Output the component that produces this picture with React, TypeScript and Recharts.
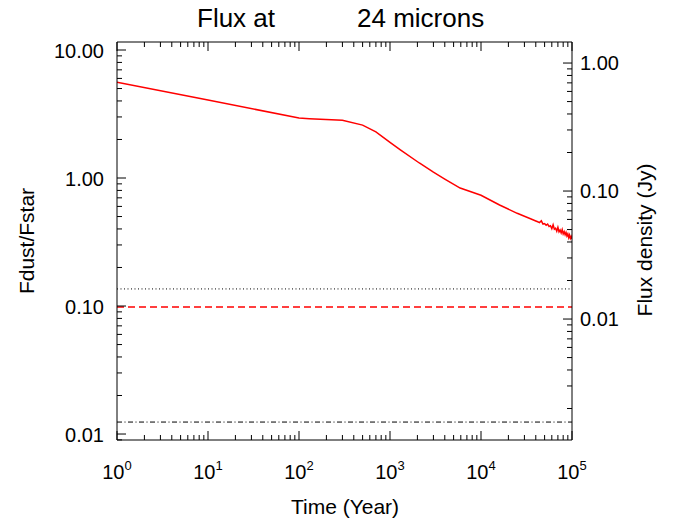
import { LineChart, Line, XAxis, YAxis, ReferenceLine } from "recharts";

// time in years, Fdust/Fstar
const times = [
  1, 10, 100, 130, 300, 500, 700, 1000, 1300, 2100, 3000, 4000, 5900, 10000,
  16000, 25000, 30000, 35000, 40000, 42000, 44000, 46000, 48000, 50000, 52000,
  54000, 56000, 58000, 60000, 62000, 64000, 66000, 68000, 70000, 72000, 74000,
  76000, 78000, 80000, 82000, 84000, 86000, 88000, 90000, 92000, 94000, 96000,
  98000, 100000,
];
const fluxRatio = [
  5.6, 4.07, 2.94, 2.91, 2.83, 2.59, 2.29, 1.9, 1.66, 1.31, 1.11, 0.98, 0.835,
  0.733, 0.615, 0.53, 0.503, 0.481, 0.462, 0.455, 0.449, 0.463, 0.436, 0.44,
  0.427, 0.437, 0.418, 0.424, 0.402, 0.431, 0.398, 0.405, 0.384, 0.412, 0.38,
  0.392, 0.372, 0.395, 0.366, 0.381, 0.36, 0.376, 0.353, 0.366, 0.342, 0.359,
  0.338, 0.35, 0.334,
];

const dottedLevel = 0.136;
const dashedLevel = 0.0982;
const dashDotLevel = 0.0124;

const xDomain = [1, 100000];
const leftDomain = [0.00898, 11.55];
const rightDomain = [0.001135, 1.46];

const data = times.map((t, i) => ({ t, r: fluxRatio[i] }));

function decadeTicks(lo: number, hi: number) {
  const out: number[] = [];
  for (let k = Math.floor(Math.log10(lo)); k <= Math.ceil(Math.log10(hi)); k++) {
    for (let m = 1; m <= 9; m++) {
      const v = Number((m * Math.pow(10, k)).toPrecision(6));
      if (v >= lo && v <= hi) out.push(v);
    }
  }
  return out;
}

const xTicks = decadeTicks(xDomain[0], xDomain[1]);
const leftTicks = decadeTicks(leftDomain[0], leftDomain[1]);
const rightTicks = decadeTicks(rightDomain[0], rightDomain[1]);

const isMajor = (v: number) =>
  Math.abs(Math.log10(v) - Math.round(Math.log10(v))) < 1e-6;

const MAJOR = 9;
const MINOR = 5;
const FONT = "'Liberation Sans', Arial, Helvetica, sans-serif";

function BottomTick(props: any) {
  const { x, y, payload } = props;
  const v = payload.value;
  const major = isMajor(v);
  return (
    <g>
      <line x1={x} y1={y} x2={x} y2={y - (major ? MAJOR : MINOR)} stroke="#000" />
      {major && (
        <text x={x} y={y + 39} textAnchor="middle" fontSize={20} fill="#000" fontFamily={FONT}>
          <tspan>10</tspan>
          <tspan dy={-9} fontSize={13}>
            {Math.round(Math.log10(v))}
          </tspan>
        </text>
      )}
    </g>
  );
}

function TopTick(props: any) {
  const { x, y, payload } = props;
  const major = isMajor(payload.value);
  return <line x1={x} y1={y} x2={x} y2={y + (major ? MAJOR : MINOR)} stroke="#000" />;
}

function LeftTick(props: any) {
  const { x, y, payload } = props;
  const v = payload.value;
  const major = isMajor(v);
  return (
    <g>
      <line x1={x} y1={y} x2={x + (major ? MAJOR : MINOR)} y2={y} stroke="#000" />
      {major && (
        <text x={x - 13} y={y} dy={8} textAnchor="end" fontSize={20} fill="#000" fontFamily={FONT}>
          {v.toFixed(2)}
        </text>
      )}
    </g>
  );
}

function RightTick(props: any) {
  const { x, y, payload } = props;
  const v = payload.value;
  const major = isMajor(v);
  return (
    <g>
      <line x1={x} y1={y} x2={x - (major ? MAJOR : MINOR)} y2={y} stroke="#000" />
      {major && (
        <text x={x + 8} y={y} dy={7} textAnchor="start" fontSize={20} fill="#000" fontFamily={FONT}>
          {v.toFixed(2)}
        </text>
      )}
    </g>
  );
}

export default function App() {
  return (
    <div style={{ position: "absolute", left: 0, top: 0, width: 674, height: 525, background: "#fff", fontFamily: FONT }}>
      <LineChart
        width={674}
        height={525}
        data={data}
        margin={{ top: 32, right: 42, bottom: 25, left: 57 }}
      >
        <XAxis
          xAxisId="bottom"
          dataKey="t"
          type="number"
          scale="log"
          domain={xDomain}
          allowDataOverflow
          ticks={xTicks}
          interval={0}
          tick={<BottomTick />}
          tickLine={false}
          tickSize={0}
          tickMargin={0}
          height={60}
          stroke="#000"
        />
        <XAxis
          xAxisId="top"
          orientation="top"
          dataKey="t"
          type="number"
          scale="log"
          domain={xDomain}
          allowDataOverflow
          ticks={xTicks}
          interval={0}
          tick={<TopTick />}
          tickLine={false}
          tickSize={0}
          tickMargin={0}
          height={10}
          stroke="#000"
        />
        <YAxis
          yAxisId="left"
          type="number"
          scale="log"
          domain={leftDomain}
          allowDataOverflow
          ticks={leftTicks}
          interval={0}
          tick={<LeftTick />}
          tickLine={false}
          tickSize={0}
          tickMargin={0}
          width={60}
          stroke="#000"
        />
        <YAxis
          yAxisId="right"
          orientation="right"
          type="number"
          scale="log"
          domain={rightDomain}
          allowDataOverflow
          ticks={rightTicks}
          interval={0}
          tick={<RightTick />}
          tickLine={false}
          tickSize={0}
          tickMargin={0}
          width={60}
          stroke="#000"
        />
        <ReferenceLine xAxisId="bottom" yAxisId="left" y={dottedLevel} stroke="#000" strokeDasharray="1 2.5" />
        <ReferenceLine xAxisId="bottom" yAxisId="left" y={dashedLevel} stroke="#ff0000" strokeWidth={1.5} strokeDasharray="7 4" />
        <ReferenceLine xAxisId="bottom" yAxisId="left" y={dashDotLevel} stroke="#000" strokeDasharray="5 2.5 1 2.5" />
        <Line
          xAxisId="bottom"
          yAxisId="left"
          dataKey="r"
          stroke="#ff0000"
          strokeWidth={1.5}
          dot={false}
          isAnimationActive={false}
        />
      </LineChart>
      <svg
        width={674}
        height={525}
        style={{ position: "absolute", left: 0, top: 0, pointerEvents: "none" }}
        fontFamily={FONT}
      >
        <text x={197} y={27} fontSize={26} fill="#000">Flux at</text>
        <text x={357} y={27} fontSize={26} fill="#000">24 microns</text>
        <text x={345} y={514} fontSize={21} textAnchor="middle" fill="#000">Time (Year)</text>
        <text transform="translate(34,241) rotate(-90)" fontSize={21} textAnchor="middle" fill="#000">Fdust/Fstar</text>
        <text transform="translate(652,240) rotate(-90)" fontSize={21} textAnchor="middle" fill="#000">Flux density (Jy)</text>
      </svg>
    </div>
  );
}
